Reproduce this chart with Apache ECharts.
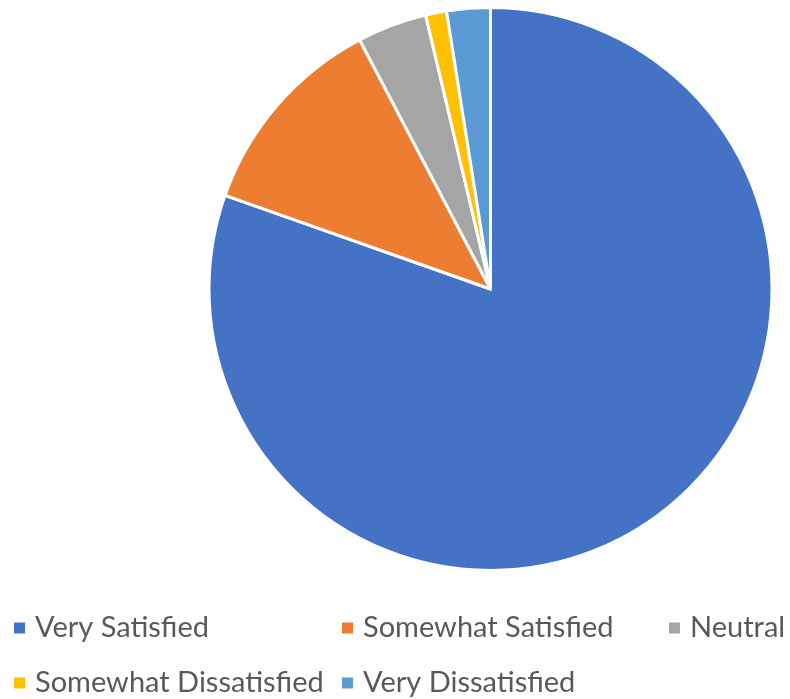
<!DOCTYPE html>
<html>
<head>
<meta charset="utf-8">
<script src="https://cdn.jsdelivr.net/npm/echarts@6/dist/echarts.min.js"></script>
<style>
  html, body { margin: 0; padding: 0; background: #ffffff; }
  #chart { width: 790px; height: 699px; }
</style>
</head>
<body>
<div id="chart"></div>
<script>
// Survey responses, share of each satisfaction level (%)
const categories = ['Very Satisfied', 'Somewhat Satisfied', 'Neutral', 'Somewhat Dissatisfied', 'Very Dissatisfied'];
const shares = [80.4, 11.9, 4.0, 1.2, 2.5];
const sliceColors = ['#4472C4', '#ED7D31', '#A5A5A5', '#FFC000', '#5B9BD5'];

// Legend grid: column x of each marker, row y of each marker centre
const legendSlots = [[12, 628], [340, 628], [667, 628], [12, 683], [340, 683]];

const chart = echarts.init(document.getElementById('chart'), null, { renderer: 'canvas' });

const legendFont = { fontFamily: 'Lato', fontSize: 29, color: '#595959', lineHeight: 32, padding: [0, 0, 0, 4] };

const legends = categories.map((name, i) => ({
  data: [name],
  left: legendSlots[i][0],
  top: legendSlots[i][1] - 16,
  padding: 0,
  icon: 'rect',
  itemWidth: 13,
  itemHeight: 13,
  selectedMode: false,
  textStyle: legendFont
}));

chart.setOption({
  animation: false,
  color: sliceColors,
  legend: legends,
  series: [{
    type: 'pie',
    center: [490.5, 289],
    radius: [0, 281.5],
    startAngle: 90,
    clockwise: true,
    label: { show: false },
    labelLine: { show: false },
    itemStyle: { borderColor: '#ffffff', borderWidth: 3 },
    emphasis: { disabled: true },
    data: categories.map((name, i) => ({ name: name, value: shares[i] }))
  }]
});
</script>
</body>
</html>
